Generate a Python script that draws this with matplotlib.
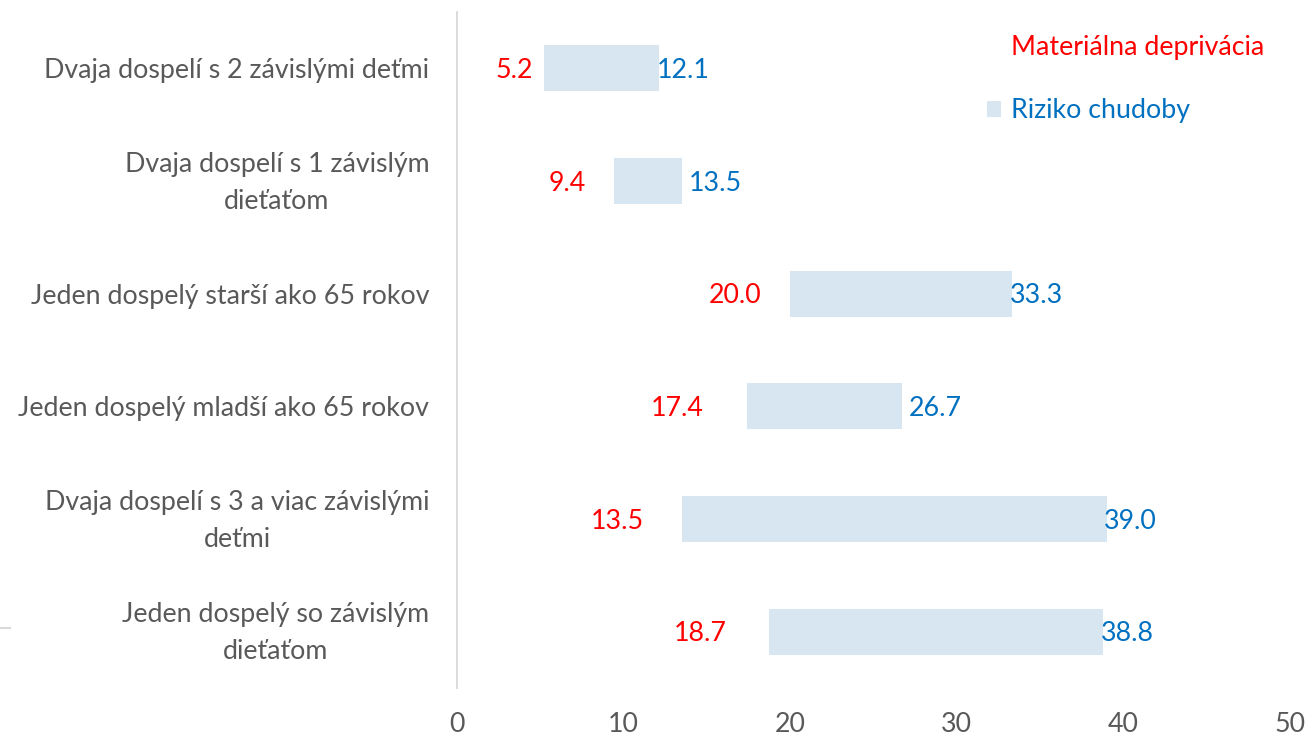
import matplotlib.pyplot as plt
import matplotlib.transforms as mtransforms
from matplotlib.patches import Patch
from matplotlib.lines import Line2D

# data (top to bottom as shown)
categories = [
    "Dvaja dospelí s 2 závislými deťmi",
    "Dvaja dospelí s 1 závislým\ndieťaťom",
    "Jeden dospelý starší ako 65 rokov",
    "Jeden dospelý mladší ako 65 rokov",
    "Dvaja dospelí s 3 a viac závislými\ndeťmi",
    "Jeden dospelý so závislým\ndieťaťom",
]
deprivacia = [5.2, 9.4, 20.0, 17.4, 13.5, 18.7]
riziko = [12.1, 13.5, 33.3, 26.7, 39.0, 38.8]
x_ticks = [0, 10, 20, 30, 40, 50]

# label gaps (points) as placed in the original chart
red_gap = [8, 20, 21, 31, 27, 30]
blue_gap = [-1.5, 5, -1.5, 5, -2, -1.5]

RED = "#FF0000"
BLUE = "#0070C0"
BAR = "#D7E6F1"
GREY = "#595959"
FS = 19.3

plt.rcParams['font.family'] = ['Lato', 'DejaVu Sans']

fig = plt.figure(figsize=(13.12, 7.38), dpi=100)
ax = fig.add_axes([0.3483, 0.0678, 0.6349, 0.9159])

ypos = list(range(len(categories)))
widths = [r - d for d, r in zip(deprivacia, riziko)]
ax.barh(ypos, widths, left=deprivacia, height=0.41, color=BAR)

for y, d, r, g1, g2 in zip(ypos, deprivacia, riziko, red_gap, blue_gap):
    ax.annotate(f"{d:.1f}", (d, y), xytext=(-g1, -1.5), textcoords='offset points',
                color=RED, fontsize=FS, ha='right', va='center')
    ax.annotate(f"{r:.1f}", (r, y), xytext=(g2, -1.5), textcoords='offset points',
                color=BLUE, fontsize=FS, ha='left', va='center')

ax.set_xlim(0, 50)
ax.set_ylim(len(categories) - 0.5, -0.5)
ax.set_xticks(x_ticks)
ax.set_yticks(ypos)
ax.set_yticklabels(categories, multialignment='center', linespacing=1.6)
ax.tick_params(axis='both', length=0, labelsize=FS, labelcolor=GREY)
ax.tick_params(axis='y', pad=20)
ax.tick_params(axis='x', pad=17)

# two-line labels sit a little higher
shift = mtransforms.ScaledTranslation(0, 5 / 72, fig.dpi_scale_trans)
for lab in ax.get_yticklabels():
    if "\n" in lab.get_text():
        lab.set_transform(lab.get_transform() + shift)

for s in ['top', 'right', 'bottom']:
    ax.spines[s].set_visible(False)
ax.spines['left'].set_color('#D9D9D9')
ax.spines['left'].set_linewidth(1.3)

handles = [Patch(facecolor='none', edgecolor='none'),
           Patch(facecolor=BAR, edgecolor='none')]
fig.legend(handles, ["Materiálna deprivácia", "Riziko chudoby"],
           labelcolor=[RED, BLUE], fontsize=FS, frameon=False,
           loc='upper left', bbox_to_anchor=(0.752, 0.9525),
           handlelength=0.55, handleheight=0.55, handletextpad=0.35,
           labelspacing=1.42, borderpad=0, borderaxespad=0)

# small stray line at the left edge
fig.add_artist(Line2D([0, 10 / 1312], [1 - 628 / 738, 1 - 628 / 738],
                      color='#D9D9D9', lw=1.5))

fig.savefig("out.png", dpi=100)
